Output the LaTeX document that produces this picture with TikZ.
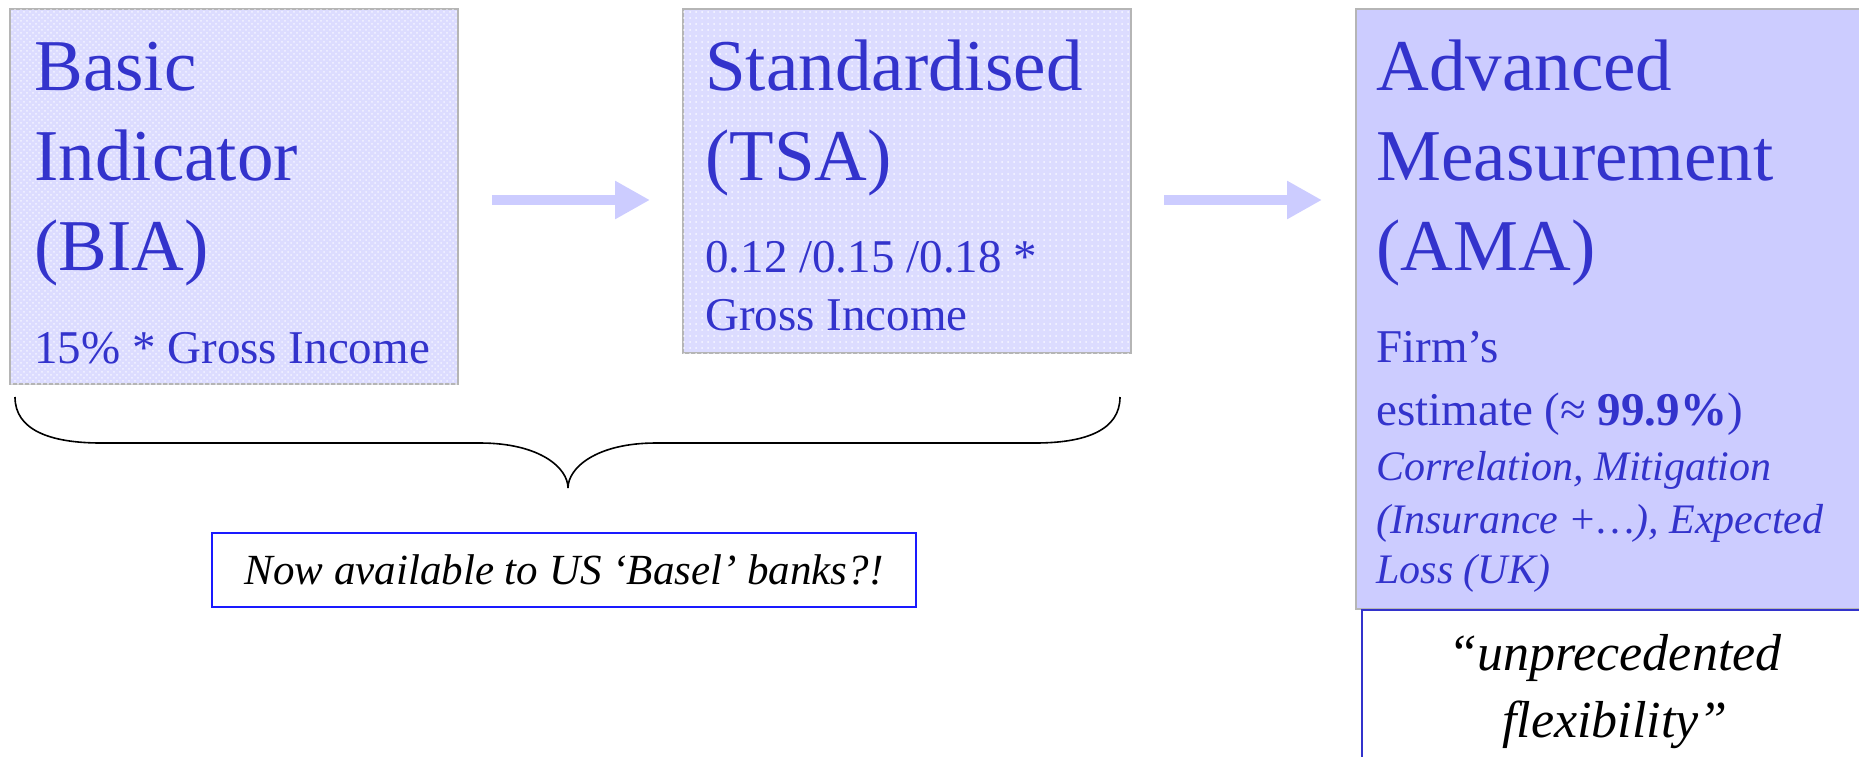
\documentclass[tikz,border=0pt]{standalone}
\usepackage{fontspec}
\setmainfont{Liberation Serif}
\usetikzlibrary{arrows.meta,patterns}
\definecolor{ink}{HTML}{3333CC}
\definecolor{paleblue}{HTML}{DCDCFF}
\definecolor{lilac}{HTML}{CCCCFF}
\definecolor{frame}{HTML}{B5B5B5}
\definecolor{note}{HTML}{1A1AFF}

\begin{document}
\begin{tikzpicture}[x=0.5pt, y=-0.5pt,
    panel/.style={draw=frame, line width=1pt, anchor=north west, inner sep=0pt},
    heading/.style={text=ink, font=\fontsize{36.5}{43}\selectfont, anchor=base west, inner sep=0pt},
    detail/.style={text=ink, font=\fontsize{23.5}{28}\selectfont, anchor=base west, inner sep=0pt},
    aside/.style={text=ink, font=\fontsize{21}{25}\selectfont\itshape, anchor=base west, inner sep=0pt},
    quote/.style={font=\fontsize{26}{31}\selectfont\itshape, anchor=base, inner sep=0pt},
    flow/.style={draw=lilac, line width=5pt, -{Triangle[length=17.5pt,width=18pt]}}]
        \useasboundingbox (0,0) rectangle (1859,756);
        % the three approaches
        \node[panel, fill=paleblue, postaction={pattern=crosshatch dots, pattern color=white!70!paleblue},
            minimum width=224pt, minimum height=187.5pt] (bia) at (9,8) {};
        \node[panel, fill=paleblue, postaction={pattern=dots, pattern color=white!80!paleblue},
            minimum width=224pt, minimum height=172pt] (tsa) at (682,8) {};
        \node[panel, fill=lilac, minimum width=260pt, minimum height=300pt] (ama) at (1355,8) {};
        \node[panel, draw=ink, minimum width=260pt, minimum height=100pt] (flex) at (1361,609) {};
        % texts
        \node[heading] (bia1) at (34,90) {Basic};
        \node[heading] (bia2) at (34,180) {Indicator};
        \node[heading] (bia3) at (34,270) {(BIA)};
        \node[detail] (bia4) at (34,363) {15\% * Gross Income};
        \node[heading] (tsa1) at (705,90) {Standardised};
        \node[heading] (tsa2) at (705,180) {(TSA)};
        \node[detail] (tsa3) at (705,272) {0.12 /0.15 /0.18 *};
        \node[detail] (tsa4) at (705,330) {Gross Income};
        \node[heading] (ama1) at (1376,90) {Advanced};
        \node[heading] (ama2) at (1376,180) {Measurement};
        \node[heading] (ama3) at (1376,270) {(AMA)};
        \node[detail] (ama4) at (1376,362) {Firm’s};
        \node[detail] (ama5) at (1376,425) {estimate (≈ \textbf{99.9\%})};
        \node[aside] (ama6) at (1376,480) {Correlation, Mitigation};
        \node[aside] (ama7) at (1376,533) {(Insurance +…), Expected};
        \node[aside] (ama8) at (1376,583) {Loss (UK)};
        \node[quote] (flex1) at (1615,670) {“unprecedented};
        \node[quote] (flex2) at (1615,737) {flexibility”};
        % arrows
        \coordinate (mid) at (0,200);
        \draw[flow, shorten <=16.5pt, shorten >=16pt] (bia.east |- mid) -- (tsa.west |- mid);
        \draw[flow, shorten <=16pt, shorten >=16.5pt] (tsa.east |- mid) -- (ama.west |- mid);
        % brace and remark
        \draw[line width=0.8pt] (15,397) .. controls (15,430) and (50,443) .. (101,443) -- (480,443)
            .. controls (540,443) and (568,468) .. (568,488)
            .. controls (568,468) and (596,443) .. (656,443) -- (1035,443)
            .. controls (1086,443) and (1120,430) .. (1120,397);
        \node[draw=note, line width=1pt, minimum width=352pt, minimum height=37pt, inner sep=0pt,
            font=\fontsize{21.5}{26}\selectfont\itshape] (now) at (564,570) {Now available to US ‘Basel’ banks?!};
\end{tikzpicture}
\end{document}
